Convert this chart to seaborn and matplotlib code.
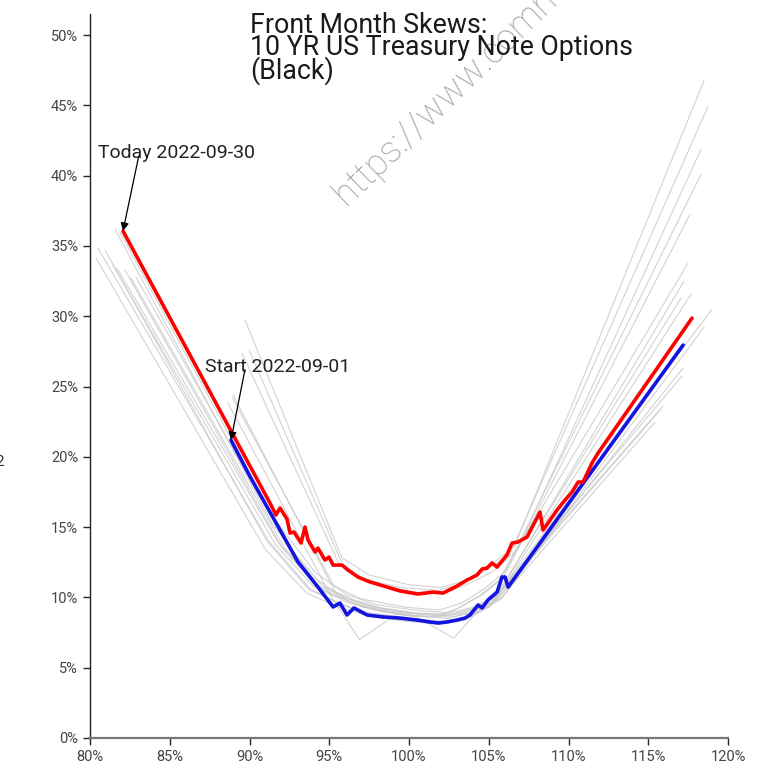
import seaborn as sns
import matplotlib.pyplot as plt
import pandas as pd
import numpy as np
from matplotlib.ticker import PercentFormatter

## front month skew, 10y note options (black vol), values in %

today_label = "Today 2022-09-30"
start_label = "Start 2022-09-01"

today_x = [82.07, 91.35, 91.66, 91.91, 92.35, 92.54, 92.79, 93.23, 93.48, 93.67, 94.11, 94.29,
           94.73, 94.98, 95.24, 95.80, 96.18, 96.80, 97.55, 98.62, 99.44, 100.56, 101.50, 102.13,
           103.01, 103.64, 104.26, 104.58, 104.89, 105.20, 105.52, 106.14, 106.46, 106.83, 107.40,
           108.21, 108.40, 109.28, 109.78, 110.22, 110.60, 110.91, 111.47, 111.85, 117.74]
today_y = [36.06, 16.57, 15.86, 16.36, 15.58, 14.58, 14.65, 13.87, 15.01, 14.08, 13.23, 13.51,
           12.66, 12.87, 12.30, 12.30, 11.95, 11.45, 11.10, 10.74, 10.46, 10.24, 10.38, 10.31,
           10.81, 11.24, 11.59, 12.02, 12.09, 12.45, 12.16, 13.02, 13.87, 13.94, 14.30,
           16.07, 14.79, 16.22, 16.93, 17.50, 18.21, 18.21, 19.56, 20.27, 29.87]

start_x = [88.84, 90.03, 93.04, 94.29, 95.24, 95.67, 96.11, 96.55, 97.37, 98.37, 99.44, 100.50,
           101.32, 101.82, 102.38, 103.01, 103.51, 103.82, 104.33, 104.58, 104.95, 105.52, 105.83,
           106.02, 106.21, 108.21, 117.18]
start_y = [21.19, 18.6, 12.52, 10.74, 9.32, 9.60, 8.75, 9.25, 8.75, 8.61, 8.53, 8.39,
           8.25, 8.18, 8.25, 8.39, 8.53, 8.75, 9.46, 9.25, 9.82, 10.38, 11.45,
           11.45, 10.74, 13.87, 27.95]

# the days in between
other_x = [
    [89.72, 95.8, 97.5, 100.0, 102.0, 103.5, 105.0, 106.6, 118.50],
    [89.53, 95.6, 97.2, 99.5, 101.8, 103.4, 104.9, 106.3, 118.75],
    [89.97, 96.0, 97.8, 100.2, 102.2, 103.6, 105.2, 106.8, 118.31],
    [88.90, 95.3, 97.0, 99.8, 101.9, 103.3, 104.7, 106.0, 118.31],
    [88.97, 95.5, 97.1, 99.6, 102.1, 103.2, 104.6, 105.9, 117.62],
    [88.65, 95.2, 96.9, 99.2, 101.6, 103.0, 104.4, 105.6, 117.49],
    [80.50, 91.2, 93.8, 95.8, 97.6, 100.0, 102.2, 103.7, 105.2, 117.24],
    [80.38, 91.0, 93.6, 95.6, 97.4, 99.8, 102.0, 103.5, 105.0, 117.05],
    [81.44, 91.6, 94.0, 96.0, 97.8, 100.2, 102.4, 103.8, 105.4, 117.68],
    [81.69, 91.8, 94.2, 96.2, 98.0, 100.4, 102.6, 104.0, 105.5, 119.00],
    [82.57, 92.2, 94.5, 96.5, 98.2, 100.5, 102.8, 104.2, 105.8, 118.50],
    [82.88, 92.4, 94.6, 96.6, 98.4, 100.6, 102.5, 104.1, 105.6, 117.18],
    [81.57, 91.4, 93.9, 95.9, 97.7, 100.1, 102.3, 103.9, 105.3, 117.12],
    [81.88, 91.6, 94.1, 96.1, 97.9, 100.3, 102.5, 104.0, 105.5, 115.92],
    [80.94, 91.1, 93.7, 95.7, 97.5, 99.9, 102.1, 103.6, 105.1, 115.74],
    [82.19, 92.0, 94.3, 96.3, 98.1, 100.4, 102.7, 104.1, 105.7, 115.42],
]
other_y = [
    [29.73, 12.8, 11.6, 10.9, 10.7, 11.2, 12.2, 13.6, 46.80],
    [27.38, 12.4, 11.3, 10.7, 10.5, 11.0, 12.0, 13.0, 44.95],
    [27.60, 11.9, 11.0, 10.4, 10.3, 10.9, 11.8, 13.4, 41.89],
    [24.25, 10.8, 9.9, 9.3, 9.1, 9.6, 10.6, 11.8, 40.11],
    [24.40, 10.1, 9.3, 8.9, 8.7, 9.3, 10.2, 11.4, 37.27],
    [23.83, 9.9, 7.0, 8.8, 8.6, 9.2, 10.1, 11.2, 33.78],
    [34.85, 14.0, 10.6, 9.5, 8.9, 8.5, 8.3, 8.6, 9.5, 32.50],
    [34.14, 13.4, 10.3, 9.3, 8.7, 8.3, 8.1, 8.4, 9.3, 31.29],
    [33.64, 13.8, 10.8, 9.7, 9.1, 8.7, 8.5, 8.9, 9.8, 31.58],
    [33.43, 13.9, 10.9, 9.9, 9.3, 8.9, 8.8, 9.2, 10.1, 30.51],
    [32.72, 13.5, 10.6, 9.6, 9.0, 8.6, 7.1, 8.9, 9.9, 29.23],
    [32.79, 13.7, 10.8, 9.8, 9.2, 8.8, 8.7, 9.0, 9.9, 26.32],
    [36.20, 15.3, 11.5, 10.0, 9.3, 8.9, 8.7, 9.1, 9.9, 25.75],
    [35.99, 15.5, 11.8, 10.2, 9.5, 9.1, 8.9, 9.3, 10.1, 23.61],
    [34.71, 14.0, 10.6, 9.5, 8.8, 8.4, 8.2, 8.6, 9.4, 23.33],
    [33.29, 13.6, 10.7, 9.7, 9.1, 8.7, 8.6, 9.0, 9.9, 22.47],
]

rows = []
for i, (xs, ys) in enumerate(zip(other_x, other_y)):
    for a, b in zip(xs, ys):
        rows.append({"day": i, "moneyness": a / 100, "vol": b / 100})
others = pd.DataFrame(rows)
today = pd.DataFrame({"moneyness": np.array(today_x) / 100, "vol": np.array(today_y) / 100})
start = pd.DataFrame({"moneyness": np.array(start_x) / 100, "vol": np.array(start_y) / 100})

sns.set_style("ticks")
plt.rcParams["font.family"] = ["Roboto", "DejaVu Sans"]

fig = plt.figure(figsize=(7.6, 7.62), dpi=100)
ax = fig.add_axes([0.1184, 0.0315, 0.8396, 0.9501])

sns.lineplot(data=others, x="moneyness", y="vol", units="day", estimator=None, sort=False,
             color="#c8c8c8", alpha=0.8, lw=0.8, ax=ax)
sns.lineplot(data=start, x="moneyness", y="vol", sort=False, estimator=None,
             color="#1414e0", lw=2.6, ax=ax)
sns.lineplot(data=today, x="moneyness", y="vol", sort=False, estimator=None,
             color="#ff0000", lw=2.6, ax=ax)

ax.set_xlim(0.80, 1.20)
ax.set_ylim(0, 0.515)
ax.set_xticks(np.arange(0.80, 1.201, 0.05))
ax.set_yticks(np.arange(0, 0.501, 0.05))
ax.xaxis.set_major_formatter(PercentFormatter(1.0, decimals=0))
ax.yaxis.set_major_formatter(PercentFormatter(1.0, decimals=0))
ax.tick_params(labelsize=10.5, labelcolor="#444444", length=5, width=1)
ax.set_xlabel("")
ax.set_ylabel("")
sns.despine(ax=ax)
ax.spines["bottom"].set_color("#777777")
ax.spines["bottom"].set_linewidth(1.6)
ax.spines["left"].set_linewidth(1.0)
ax.spines["left"].set_color("#222222")

arrow = dict(arrowstyle="-|>", color="black", lw=0.9, mutation_scale=12,
             shrinkA=0, shrinkB=0, patchA=None)
ax.annotate(today_label, xy=(today_x[0] / 100, today_y[0] / 100), xytext=(0.805, 0.416),
            ha="left", va="center", fontsize=14, color="#222222",
            arrowprops=dict(arrow, relpos=(0.26, 0.35)))
ax.annotate(start_label, xy=(start_x[0] / 100, start_y[0] / 100), xytext=(0.8721, 0.2639),
            ha="left", va="center", fontsize=14, color="#222222",
            arrowprops=dict(arrow, relpos=(0.275, 0.35)))

fig.text(250 / 760, 1 - 12 / 762, "Front Month Skews:\n10 YR US Treasury Note Options\n(Black)",
         ha="left", va="top", fontsize=19.3, linespacing=0.78, color="#1a1a1a")

ax.text(0.964, 0.374, "https://www.commodityvol.com", rotation=44, rotation_mode="anchor",
        ha="left", va="bottom", fontsize=26, fontweight="light", color="#a0a0a0",
        transform=ax.transData, clip_on=False)

fig.text(0.0, 1 - 462 / 762, "2", ha="center", va="center", fontsize=11, color="#333333")

fig.savefig("out.png", dpi=100)
